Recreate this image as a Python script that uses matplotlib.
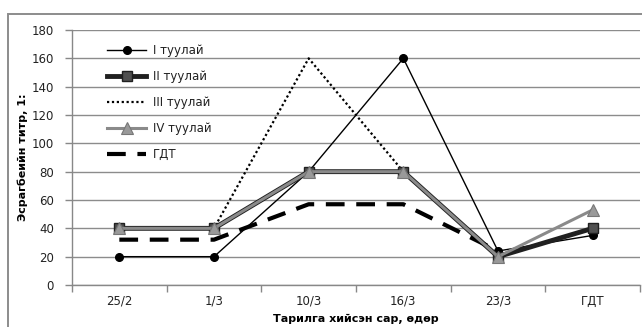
import numpy as np
import matplotlib
matplotlib.use("Agg")
import matplotlib.pyplot as plt
from matplotlib.patches import Rectangle

categories = ["25/2", "1/3", "10/3", "16/3", "23/3", "ГДТ"]
bull_1 = [20, 20, 80, 160, 24, 35]
bull_2 = [40, 40, 80, 80, 20, 40]
bull_3 = [40, 40, 160, 80, 20, np.nan]
bull_4 = [40, 40, 80, 80, 20, 53]
gdt = [32, 32, 57, 57, 24, np.nan]
series_labels = ["I туулай", "II туулай", "III туулай", "IV туулай", "ГДТ"]
y_ticks = list(range(0, 181, 20))

plt.rcParams["font.family"] = ["DejaVu Sans"]

fig = plt.figure(figsize=(6.42, 3.27), dpi=100)
ax = fig.add_axes([72 / 642, 1 - 285 / 327, 568 / 642, 255 / 327])

x = np.arange(len(categories))

ax.plot(x, bull_1, color="black", lw=1.0, marker="o", ms=5.5,
        mfc="black", mec="black", label=series_labels[0], zorder=2)
ax.plot(x, bull_2, color="#202020", lw=3.5, marker="s", ms=7,
        mfc="#505050", mec="#202020", mew=1.0, label=series_labels[1], zorder=3)
ax.plot(x, bull_3, color="black", lw=1.6, ls=(0, (1, 1.2)),
        label=series_labels[2], zorder=2.5)
ax.plot(x, bull_4, color="#8a8a8a", lw=2.2, marker="^", ms=8,
        mfc="#999999", mec="#777777", mew=0.8, label=series_labels[3], zorder=4)
ax.plot(x, gdt, color="black", lw=3.0, ls=(0, (4.5, 2.8)),
        label=series_labels[4], zorder=3.5)

ax.set_xlim(-0.5, len(categories) - 0.5)
ax.set_ylim(0, 180)
ax.set_yticks(y_ticks)
ax.set_yticklabels([str(v) for v in y_ticks], fontsize=8.5, color="#222222")
ax.set_xticks(x)
ax.set_xticklabels(categories, fontsize=8.5, color="#222222")
ax.tick_params(axis="x", which="major", length=0, pad=7)
ax.set_xticks(np.arange(-0.5, len(categories) - 0.4, 1.0), minor=True)
ax.tick_params(axis="x", which="minor", length=5, color="#888888", width=1.0)
ax.tick_params(axis="y", length=5, color="#888888", width=1.0, pad=8)

ax.grid(axis="y", color="#8c8c8c", lw=1.0)
ax.set_axisbelow(True)
for side in ("top", "right"):
    ax.spines[side].set_visible(False)
for side in ("left", "bottom"):
    ax.spines[side].set_color("#888888")
    ax.spines[side].set_linewidth(1.0)

ax.set_xlabel("Тарилга хийсэн сар, өдөр", fontsize=8, fontweight="bold",
              labelpad=4.5)
ax.set_ylabel("Эсрагбеийн титр, 1:", fontsize=8, fontweight="bold")
ax.yaxis.set_label_coords(-44 / 568, 0.5)

leg = ax.legend(loc="upper left", bbox_to_anchor=(0.043, 0.985), frameon=False,
                fontsize=8.5, handlelength=3.3, labelspacing=1.1,
                handletextpad=0.6)
for t in leg.get_texts():
    t.set_color("#222222")

fig.add_artist(Rectangle((8 / 642, -0.1), 1.2, 1.1 - 14 / 327,
                         transform=fig.transFigure, fill=False,
                         edgecolor="#8c8c8c", lw=1.4))

fig.savefig("out.png", dpi=100)
